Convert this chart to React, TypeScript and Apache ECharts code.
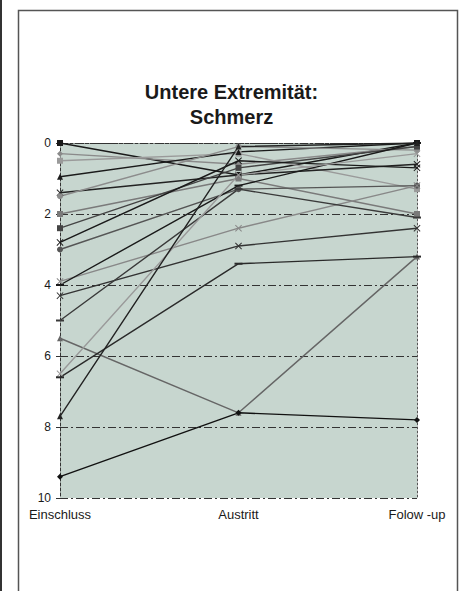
import React, { useEffect, useRef } from "react";
import * as echarts from "echarts";

const categories = ["Einschluss", "Austritt", "Folow -up"];
const yTicks = [0, 2, 4, 6, 8, 10];

const p01 = [0.0, 0.9, 0.0];
const p02 = [0.3, 0.6, 0.1];
const p03 = [0.5, 0.3, 1.3];
const p04 = [0.95, 0.25, 0.0];
const p05 = [1.4, 0.9, 0.6];
const p06 = [1.5, 0.1, 0.2];
const p07 = [2.0, 1.0, 2.0];
const p08 = [2.4, 0.7, 0.1];
const p09 = [2.8, 0.5, 0.7];
const p10 = [3.0, 1.3, 1.2];
const p11 = [3.9, 2.4, 1.2];
const p12 = [4.0, 1.2, 0.0];
const p13 = [4.3, 2.9, 2.4];
const p14 = [5.0, 1.3, 2.1];
const p15 = [5.5, 7.6, 3.2];
const p16 = [6.5, 0.9, 0.3];
const p17 = [6.6, 3.4, 3.2];
const p18 = [7.7, 0.1, 0.0];
const p19 = [9.4, 7.6, 7.8];

const X = "path://M0,1L1,0L5,4L9,0L10,1L6,5L10,9L9,10L5,6L1,10L0,9L4,5Z";
const DASH = "path://M0,0H10V2H0Z";

const seriesDefs: [number[], string, string][] = [
  [p01, "#1a1a1a", "rect"],
  [p02, "#8a8a8a", "diamond"],
  [p03, "#9a9a9a", "rect"],
  [p04, "#1a1a1a", "triangle"],
  [p05, "#222222", X],
  [p06, "#8c8c8c", "circle"],
  [p07, "#7a7a7a", "rect"],
  [p08, "#444444", "rect"],
  [p09, "#1a1a1a", X],
  [p10, "#555555", "circle"],
  [p11, "#888888", X],
  [p12, "#1a1a1a", DASH],
  [p13, "#333333", X],
  [p14, "#3a3a3a", DASH],
  [p15, "#666666", "triangle"],
  [p16, "#9a9a9a", X],
  [p17, "#2a2a2a", DASH],
  [p18, "#222222", "triangle"],
  [p19, "#111111", "diamond"],
];

export default function App() {
  const ref = useRef<HTMLDivElement>(null);
  useEffect(() => {
    if (!ref.current) return;
    const chart = echarts.init(ref.current, undefined, { renderer: "svg" });
    chart.setOption({
      animation: false,
      backgroundColor: "#ffffff",
      title: {
        text: "Untere Extremität:\nSchmerz",
        left: "center",
        top: 74,
        textStyle: {
          fontFamily: "Liberation Sans, Arial, sans-serif",
          fontWeight: "bold",
          fontSize: 20,
          lineHeight: 25,
          color: "#1a1a1a",
        },
      },
      graphic: [
        { type: "rect", shape: { x: 0, y: 0, width: 2, height: 591 }, style: { fill: "#333" }, silent: true },
        {
          type: "rect",
          shape: { x: 18.5, y: 10.5, width: 439, height: 600 },
          style: { fill: "none", stroke: "#555", lineWidth: 1.5 },
          silent: true,
        },
      ],
      grid: {
        left: 60,
        right: 46,
        top: 143,
        bottom: 93,
        show: true,
        backgroundColor: "#c7d6cf",
        borderWidth: 0,
      },
      xAxis: {
        type: "category",
        data: categories,
        boundaryGap: false,
        axisLine: { show: true, lineStyle: { color: "#333", width: 1, type: [3, 2] } },
        axisTick: { show: false },
        axisLabel: {
          margin: 10,
          fontFamily: "Liberation Sans, Arial, sans-serif",
          fontSize: 13,
          color: "#1a1a1a",
        },
        splitLine: { show: false },
      },
      yAxis: [
        {
          type: "value",
          inverse: true,
          min: 0,
          max: 10,
          interval: 2,
          axisLine: { show: true, lineStyle: { color: "#333", width: 1, type: [3, 2] } },
          axisTick: { show: true, length: 4, lineStyle: { color: "#333" } },
          axisLabel: {
            margin: 9,
            fontFamily: "Liberation Sans, Arial, sans-serif",
            fontSize: 12,
            color: "#1a1a1a",
            formatter: (v: number) => (yTicks.includes(v) ? String(v) : ""),
          },
          splitLine: {
            show: true,
            lineStyle: { color: "#333", width: 1, type: [8, 3, 2, 3] },
          },
        },
        {
          type: "value",
          inverse: true,
          min: 0,
          max: 10,
          interval: 2,
          position: "right",
          axisLine: { show: true, lineStyle: { color: "#555", width: 1, type: [2, 2] } },
          axisTick: { show: false },
          axisLabel: { show: false },
          splitLine: { show: false },
        },
      ],
      series: seriesDefs.map(([d, c, s]) => ({
        type: "line",
        data: d,
        yAxisIndex: 0,
        symbol: s,
        symbolSize: s === DASH ? [8, 2] : s === X ? 7 : 6,
        showAllSymbol: true,
        lineStyle: { color: c, width: 1.4 },
        itemStyle: { color: c },
        emphasis: { disabled: true },
      })),
    });
    return () => chart.dispose();
  }, []);
  return (
    <div
      ref={ref}
      style={{ position: "fixed", left: 0, top: 0, width: 463, height: 591 }}
    />
  );
}
